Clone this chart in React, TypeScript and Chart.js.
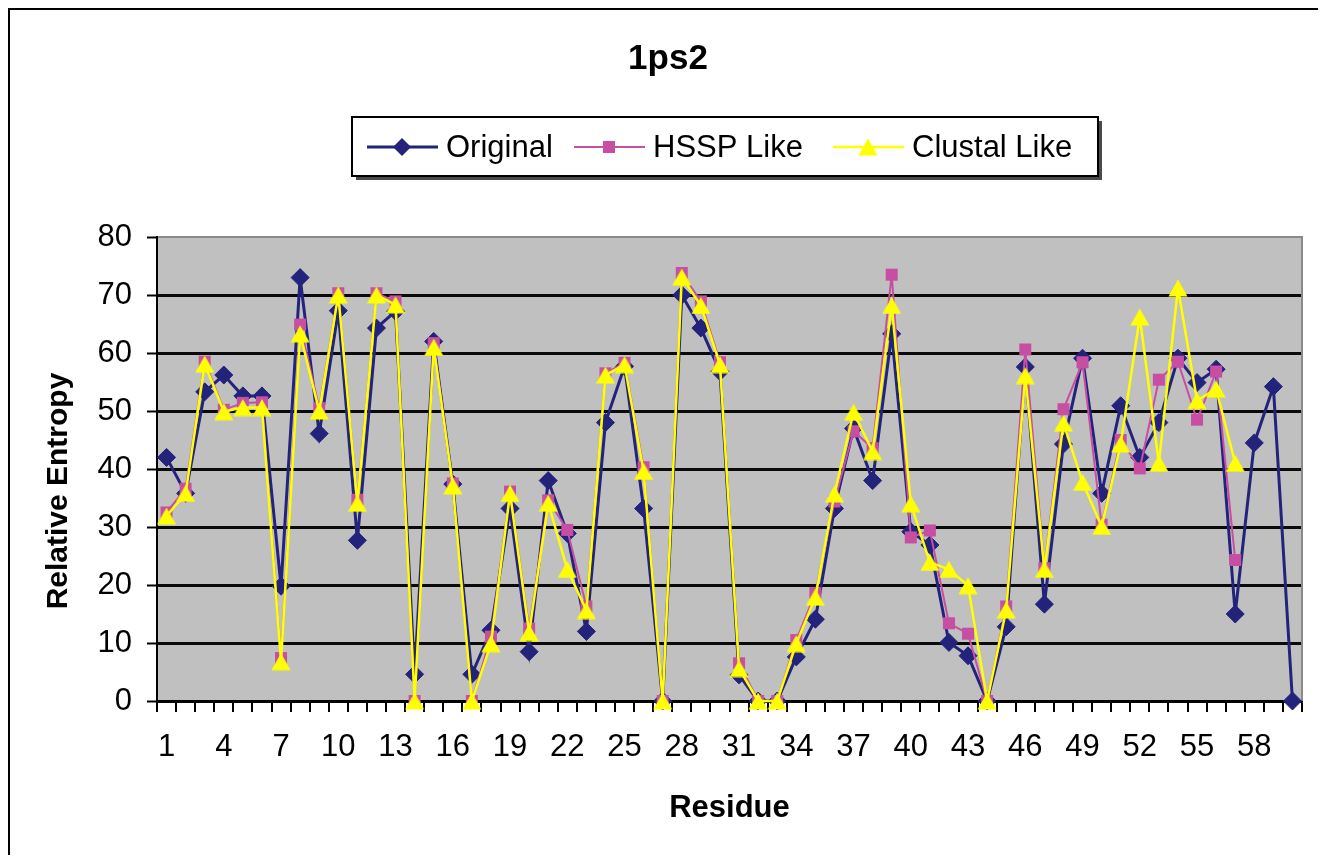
import React, { useEffect, useRef } from "react";
import { Chart, registerables } from "chart.js";

Chart.register(...registerables);

// ---------------- data ----------------
const residues = [
  "1", "2", "3", "4", "5", "6", "7", "8", "9", "10",
  "11", "12", "13", "14", "15", "16", "17", "18", "19", "20",
  "21", "22", "23", "24", "25", "26", "27", "28", "29", "30",
  "31", "32", "33", "34", "35", "36", "37", "38", "39", "40",
  "41", "42", "43", "44", "45", "46", "47", "48", "49", "50",
  "51", "52", "53", "54", "55", "56", "57", "58", "59", "60",
];

const xTickLabels = [
  "1", "4", "7", "10", "13", "16", "19", "22", "25", "28",
  "31", "34", "37", "40", "43", "46", "49", "52", "55", "58",
];

const yTicks = [0, 10, 20, 30, 40, 50, 60, 70, 80];

const original = [
  42.0, 35.8, 53.3, 56.2, 52.6, 52.6, 19.8, 73.0, 46.1, 67.3,
  27.7, 64.3, 67.2, 4.6, 62.0, 37.4, 4.6, 12.2, 33.2, 8.5,
  38.0, 28.9, 12.0, 48.0, 57.7, 33.2, 0, 70.0, 64.3, 56.8,
  4.5, 0, 0, 7.6, 14.1, 33.2, 47.0, 38.0, 63.3, 29.2,
  26.9, 10.1, 7.8, 0, 12.8, 57.6, 16.7, 44.3, 59.1, 35.8,
  50.9, 42.0, 48.0, 59.1, 54.9, 57.2, 15.0, 44.5, 54.2, 0,
];

const hsspLike = [
  32.5, 36.6, 58.5, 50.2, 51.4, 51.5, 7.4, 64.9, 50.5, 70.3,
  34.7, 70.3, 68.9, 0, 61.7, 37.5, 0, 11.1, 36.1, 12.5,
  34.6, 29.5, 16.3, 56.5, 58.3, 40.3, 0, 73.8, 68.9, 58.4,
  6.5, 0, 0, 10.5, 18.6, 34.4, 46.5, 43.6, 73.5, 28.2,
  29.4, 13.4, 11.6, 0, 16.3, 60.6, 22.9, 50.3, 58.4, 30.4,
  45.0, 40.1, 55.4, 58.5, 48.5, 56.8, 24.3,
];

const clustalLike = [
  31.9, 35.8, 58.1, 49.9, 50.6, 50.6, 6.8, 63.3, 50.0, 70.0,
  34.1, 70.0, 68.3, 0, 61.0, 37.1, 0, 9.9, 35.8, 11.8,
  34.1, 22.7, 15.6, 56.2, 58.0, 39.6, 0, 73.1, 68.2, 58.0,
  5.6, 0, 0, 9.9, 17.9, 35.7, 49.8, 43.0, 68.2, 34.0,
  23.9, 22.7, 19.9, 0, 15.7, 56.1, 22.7, 47.9, 37.7, 30.1,
  44.3, 66.2, 41.0, 71.2, 51.8, 53.8, 41.0,
];

const seriesLabels = ["Original", "HSSP Like", "Clustal Like"];
const chartTitle = "1ps2";
const xTitle = "Residue";
const yTitle = "Relative Entropy";

// ---------------- style ----------------
const FONT = "'Liberation Sans', Arial, Helvetica, sans-serif";
const NAVY = "#23237b";
const MAGENTA = "#c64fa4";
const YELLOW = "#ffff00";
const PLOT_BG = "#c0c0c0";

const CANVAS_W = 1309;
const CANVAS_H = 845;

function makeTriangle(color: string): HTMLCanvasElement {
  const c = document.createElement("canvas");
  c.width = 20;
  c.height = 18;
  const g = c.getContext("2d")!;
  g.fillStyle = color;
  g.beginPath();
  g.moveTo(10, 0.5);
  g.lineTo(19.5, 17.5);
  g.lineTo(0.5, 17.5);
  g.closePath();
  g.fill();
  return c;
}

function decorPlugin(tri: HTMLCanvasElement) {
  return {
    id: "decor",
    beforeDraw(chart: any) {
      const { ctx, chartArea: a } = chart;
      ctx.save();
      ctx.fillStyle = PLOT_BG;
      ctx.fillRect(a.left, a.top, a.right - a.left, a.bottom - a.top);
      ctx.restore();
    },
    beforeDatasetsDraw(chart: any) {
      const { ctx, chartArea: a } = chart;
      ctx.save();
      ctx.strokeStyle = "#8a8a8a";
      ctx.lineWidth = 2;
      ctx.beginPath();
      ctx.moveTo(a.left + 1, a.top);
      ctx.lineTo(a.right, a.top);
      ctx.lineTo(a.right, a.bottom);
      ctx.stroke();
      ctx.restore();
    },
    afterDraw(chart: any) {
      const { ctx, chartArea: a } = chart;
      ctx.save();
      ctx.fillStyle = "#000";

      // chart title
      ctx.font = `bold 35px ${FONT}`;
      ctx.textAlign = "center";
      ctx.textBaseline = "alphabetic";
      ctx.fillText(chartTitle, 658, 59);

      // axis titles
      ctx.font = `bold 31px ${FONT}`;
      ctx.textBaseline = "middle";
      ctx.fillText(xTitle, (a.left + a.right) / 2, 798);
      ctx.save();
      ctx.translate(49, 481);
      ctx.rotate(-Math.PI / 2);
      ctx.font = `bold 30px ${FONT}`;
      ctx.fillText(yTitle, 0, 0);
      ctx.restore();

      // legend box with shadow
      const bx = 342, by = 107, bw = 746, bh = 59;
      ctx.fillStyle = "#4a4a4a";
      ctx.fillRect(bx + 4, by + 4, bw, bh);
      ctx.fillStyle = "#fff";
      ctx.fillRect(bx, by, bw, bh);
      ctx.strokeStyle = "#000";
      ctx.lineWidth = 2;
      ctx.strokeRect(bx, by, bw, bh);

      const itemX = [357, 564, 823];
      const colors = [NAVY, MAGENTA, YELLOW];
      const widths = [3, 2, 2.5];
      const ly = 137;
      ctx.font = `31px ${FONT}`;
      ctx.textAlign = "left";
      ctx.textBaseline = "middle";
      for (let i = 0; i < 3; i++) {
        const x0 = itemX[i];
        ctx.strokeStyle = colors[i];
        ctx.lineWidth = widths[i];
        ctx.beginPath();
        ctx.moveTo(x0, ly);
        ctx.lineTo(x0 + 71, ly);
        ctx.stroke();
        const cx = x0 + 35;
        ctx.fillStyle = colors[i];
        if (i === 0) {
          ctx.beginPath();
          ctx.moveTo(cx, ly - 9);
          ctx.lineTo(cx + 9, ly);
          ctx.lineTo(cx, ly + 9);
          ctx.lineTo(cx - 9, ly);
          ctx.closePath();
          ctx.fill();
        } else if (i === 1) {
          ctx.fillRect(cx - 6, ly - 6, 12, 12);
        } else {
          ctx.drawImage(tri, cx - tri.width / 2, ly - tri.height / 2);
        }
        ctx.fillStyle = "#000";
        ctx.fillText(seriesLabels[i], x0 + 79, ly + 1);
      }
      ctx.restore();
    },
  };
}

export default function App() {
  const ref = useRef<HTMLCanvasElement>(null);

  useEffect(() => {
    const tri = makeTriangle(YELLOW);
    Chart.defaults.font.family = FONT;
    const chart = new Chart(ref.current!, {
      type: "line",
      data: {
        labels: residues,
        datasets: [
          {
            label: seriesLabels[0],
            data: original,
            borderColor: NAVY,
            backgroundColor: NAVY,
            borderWidth: 3,
            pointStyle: "rectRot",
            pointRadius: 9,
            pointBackgroundColor: NAVY,
            pointBorderColor: NAVY,
            pointBorderWidth: 1,
            tension: 0,
            clip: false,
            order: 3,
          },
          {
            label: seriesLabels[1],
            data: hsspLike,
            borderColor: MAGENTA,
            backgroundColor: MAGENTA,
            borderWidth: 2,
            pointStyle: "rect",
            pointRadius: 8.5,
            pointBackgroundColor: MAGENTA,
            pointBorderColor: MAGENTA,
            pointBorderWidth: 0,
            tension: 0,
            clip: false,
            order: 2,
          },
          {
            label: seriesLabels[2],
            data: clustalLike,
            borderColor: YELLOW,
            backgroundColor: YELLOW,
            borderWidth: 2.5,
            pointStyle: tri as any,
            pointRadius: 9,
            tension: 0,
            clip: false,
            order: 1,
          },
        ],
      } as any,
      options: {
        animation: false,
        responsive: false,
        devicePixelRatio: 1,
        events: [],
        layout: { padding: { top: 227, right: 17, left: 0, bottom: 0 } },
        plugins: {
          legend: { display: false },
          title: { display: false },
          tooltip: { enabled: false },
        },
        scales: {
          x: {
            type: "category",
            offset: true,
            afterFit: (s: any) => {
              s.height = 154;
            },
            grid: {
              display: true,
              drawOnChartArea: false,
              drawTicks: true,
              tickLength: 11,
              offset: true,
              color: "#000",
              lineWidth: 2,
            },
            border: { display: true, color: "#000", width: 2.5 },
            ticks: {
              autoSkip: false,
              maxRotation: 0,
              minRotation: 0,
              padding: 17,
              color: "#000",
              font: { size: 31, family: FONT },
              callback: (_v: any, i: number) =>
                xTickLabels.includes(residues[i]) ? residues[i] : "",
            },
          },
          y: {
            min: yTicks[0],
            max: yTicks[yTicks.length - 1],
            afterFit: (s: any) => {
              s.width = 147;
            },
            afterBuildTicks: (s: any) => {
              s.ticks = yTicks.map((v) => ({ value: v }));
            },
            grid: {
              display: true,
              drawTicks: true,
              tickLength: 10,
              tickColor: "#000",
              tickWidth: 2,
              lineWidth: 3,
              color: (c: any) =>
                c.tick && c.tick.value === yTicks[yTicks.length - 1]
                  ? "rgba(0,0,0,0)"
                  : "#0a0a0a",
            },
            border: { display: true, color: "#000", width: 2 },
            ticks: {
              padding: 15,
              color: "#000",
              font: { size: 31, family: FONT },
            },
          },
        },
      } as any,
      plugins: [decorPlugin(tri)],
    });
    return () => chart.destroy();
  }, []);

  return (
    <div
      style={{
        width: CANVAS_W,
        height: CANVAS_H,
        borderTop: "2px solid #000",
        borderLeft: "2px solid #000",
        borderRight: "2px solid #000",
        background: "#fff",
        position: "relative",
      }}
    >
      <canvas
        ref={ref}
        width={CANVAS_W}
        height={CANVAS_H}
        style={{ display: "block", width: CANVAS_W, height: CANVAS_H }}
      />
    </div>
  );
}
